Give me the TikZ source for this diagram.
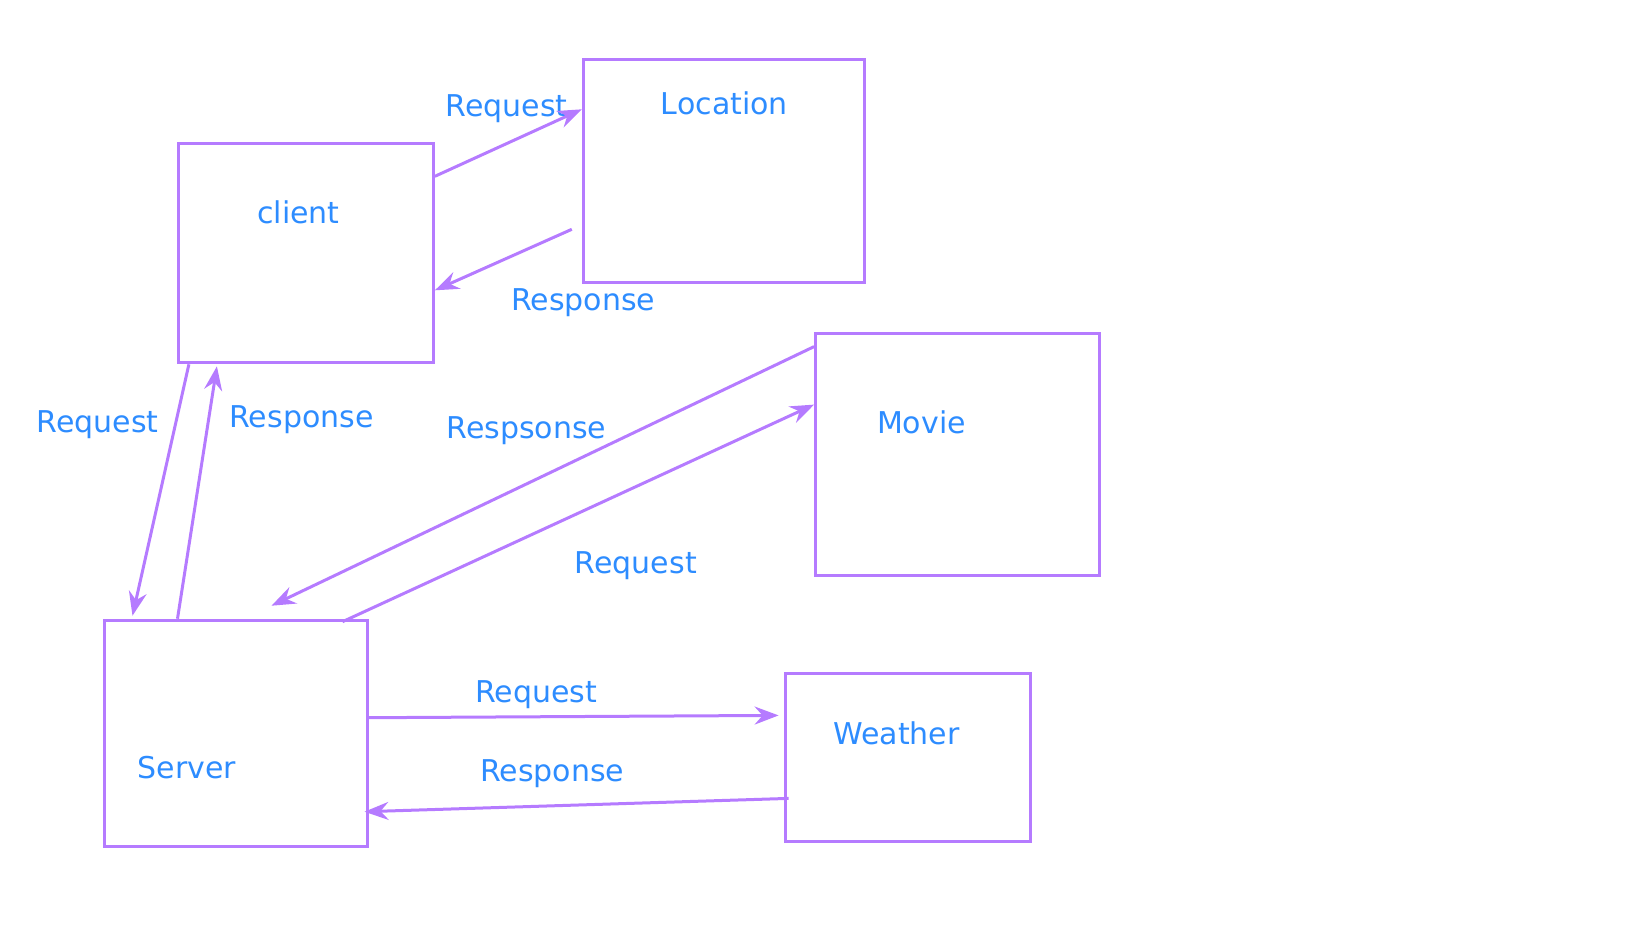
\documentclass[tikz,border=0pt]{standalone}
\usepackage{fontspec}
\setmainfont{DejaVu Sans}
\usetikzlibrary{arrows.meta}
\definecolor{boxline}{HTML}{B57BFF}
\definecolor{labeltext}{HTML}{2D8CFF}

\begin{document}
\begin{tikzpicture}[x=1pt, y=-1pt,
    box/.style={rectangle, draw=boxline, line width=3pt, inner sep=0pt},
    lbl/.style={text=labeltext, font=\fontsize{30}{36}\selectfont, inner sep=0pt},
    flow/.style={draw=boxline, line width=3pt, -{Stealth[length=24pt, width=18pt, inset=8pt]}}]
    \useasboundingbox (0,0) rectangle (1648,927);
    \node (client) [box, minimum width=255pt, minimum height=219pt] at (305.9,253.3) {};
    \node (location) [box, minimum width=281pt, minimum height=223pt] at (723.8,171.3) {};
    \node (movie) [box, minimum width=284pt, minimum height=242pt] at (957.6,454.1) {};
    \node (server) [box, minimum width=263pt, minimum height=226pt] at (235.5,733.2) {};
    \node (weather) [box, minimum width=245pt, minimum height=168pt] at (907.6,757.9) {};

    \node (clientname) [lbl] at (298.5,212) {client};
    \node (locationname) [lbl] at (724.4,103.5) {Location};
    \node (moviename) [lbl] at (921.4,422) {Movie};
    \node (servername) [lbl] at (187.1,768) {Server};
    \node (weathername) [lbl] at (896.5,733.3) {Weather};

    \node (reqloc) [lbl] at (506.5,108.5) {Request};
    \node (resloc) [lbl] at (583.1,302.5) {Response};
    \node (reqsrv) [lbl] at (97.5,425) {Request};
    \node (ressrv) [lbl] at (301.5,419.5) {Response};
    \node (resmov) [lbl] at (526.4,431) {Respsonse};
    \node (reqmov) [lbl] at (635.8,565.2) {Request};
    \node (reqwea) [lbl] at (536.3,694.5) {Request};
    \node (reswea) [lbl] at (552.2,773.6) {Response};

    \draw [flow] ([yshift=-34pt]client.north east) -- ([yshift=-51pt]location.north west);
    \draw [flow] ([xshift=-10pt,yshift=-171pt]location.north west) -- ([yshift=-148pt]client.north east);
    \draw [flow] ([xshift=12pt]client.south west) -- ([xshift=30pt,yshift=3pt]server.north west);
    \draw [flow] ([xshift=75pt]server.north west) -- ([xshift=40pt,yshift=-2pt]client.south west);
    \draw [flow] ([yshift=-15pt]movie.north west) -- ([xshift=169pt,yshift=13pt]server.north west);
    \draw [flow] ([xshift=-26pt,yshift=-3pt]server.north east) -- ([yshift=-73pt]movie.north west);
    \draw [flow] ([yshift=-99pt]server.north east) -- ([xshift=-5pt,yshift=-43pt]weather.north west);
    \draw [flow] ([xshift=5pt,yshift=-126pt]weather.north west) -- ([xshift=-4pt,yshift=-193pt]server.north east);
\end{tikzpicture}
\end{document}
